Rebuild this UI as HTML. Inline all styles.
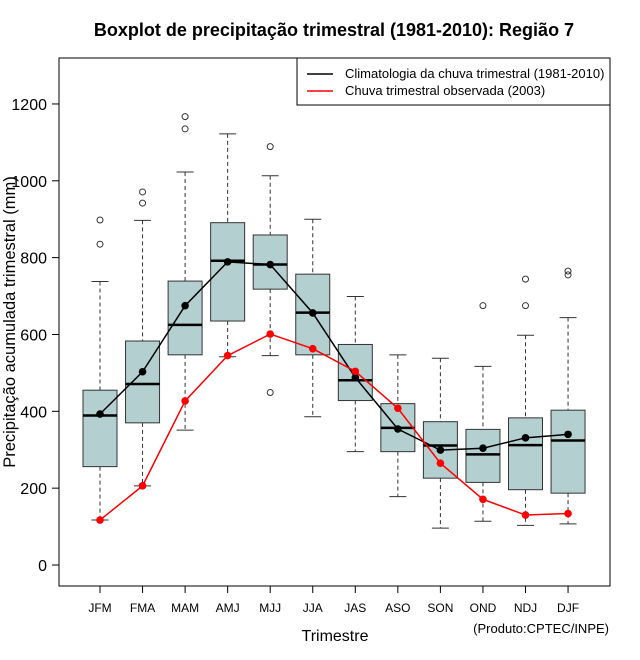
<!DOCTYPE html>
<html><head><meta charset="utf-8"><style>
body{margin:0;background:#fff;}
svg{display:block;font-family:"Liberation Sans",sans-serif;}
</style></head><body>
<svg id="chart" width="640" height="660">
<text x="334" y="36" text-anchor="middle" font-size="18" font-weight="bold">Boxplot de precipitação trimestral (1981-2010): Região 7</text>
<rect x="59" y="58" width="551" height="528" fill="none" stroke="#000" stroke-width="1"/>
<g id="yaxis"></g>
<g id="xaxis"></g>
<g id="boxes"></g>
<g id="lines"></g>
<text transform="translate(15,322) rotate(-90)" text-anchor="middle" font-size="16.5">Precipitação acumulada trimestral (mm)</text>
<text x="335" y="641" text-anchor="middle" font-size="16">Trimestre</text>
<text x="609" y="633" text-anchor="end" font-size="13">(Produto:CPTEC/INPE)</text>
<g>
<rect x="297" y="58" width="313" height="47" fill="#fff" stroke="#000"/>
<line x1="307" y1="74" x2="333" y2="74" stroke="#000" stroke-width="1.5"/>
<text x="345" y="78" font-size="13">Climatologia da chuva trimestral (1981-2010)</text>
<line x1="307" y1="91" x2="333" y2="91" stroke="#f00" stroke-width="1.5"/>
<text x="345" y="95" font-size="13">Chuva trimestral observada (2003)</text>
</g>
</svg>
<script>
const categories=["JFM","FMA","MAM","AMJ","MJJ","JJA","JAS","ASO","SON","OND","NDJ","DJF"];
const whiskerLow=[117,206,351,542,545,386,295,178,96,114,103,107];
const q1=[256,370,547,635,718,547,428,295,226,215,196,187];
const median=[389,471,625,792,782,657,481,357,311,288,312,324];
const q3=[455,583,739,891,859,757,574,420,373,353,383,403];
const whiskerHigh=[738,897,1023,1122,1013,900,699,547,538,517,598,644];
const outliers=[[898,835],[971,942],[1167,1135],[],[1089,449],[],[],[],[],[675],[744,675],[765,755]];
const climatology=[393,503,675,789,782,656,488,354,299,304,331,340];
const observed2003=[117,206,427,545,601,563,504,408,265,171,130,134];
const yTicks=[0,200,400,600,800,1000,1200];
const NS="http://www.w3.org/2000/svg";
const xS=i=>100+i*42.55;
const yS=v=>565-v*0.3842;
function mk(t,a,p){const e=document.createElementNS(NS,t);for(const k in a)e.setAttribute(k,a[k]);p.appendChild(e);return e;}
const ya=document.getElementById('yaxis');
yTicks.forEach(v=>{
 const l=mk('line',{x1:52,x2:59,y1:yS(v),y2:yS(v),stroke:'#000'},ya);
 
 
 const t=mk('text',{x:47,y:yS(v)+6,'text-anchor':'end','font-size':16},ya);
 t.textContent=v;
 
 
});
const xa=document.getElementById('xaxis');
categories.forEach((c,i)=>{
 const l=mk('line',{x1:xS(i),x2:xS(i),y1:586,y2:593,stroke:'#000'},xa);
 
 
 const t=mk('text',{x:xS(i),y:612,'text-anchor':'middle','font-size':12},xa);
 t.textContent=c;
 
 
});
const bx=document.getElementById('boxes');
categories.forEach((c,i)=>{
 const x=xS(i),g=mk('g',{},bx);
 
 
 mk('line',{x1:x,x2:x,y1:yS(whiskerHigh[i]),y2:yS(q3[i]),stroke:'#333','stroke-dasharray':'4,3'},g);
 mk('line',{x1:x,x2:x,y1:yS(q1[i]),y2:yS(whiskerLow[i]),stroke:'#333','stroke-dasharray':'4,3'},g);
 mk('line',{x1:x-8.5,x2:x+8.5,y1:yS(whiskerHigh[i]),y2:yS(whiskerHigh[i]),stroke:'#333'},g);
 mk('line',{x1:x-8.5,x2:x+8.5,y1:yS(whiskerLow[i]),y2:yS(whiskerLow[i]),stroke:'#333'},g);
 mk('rect',{x:x-17,y:yS(q3[i]),width:34,height:yS(q1[i])-yS(q3[i]),fill:'#b4cfcf',stroke:'#333'},g);
 mk('line',{x1:x-17,x2:x+17,y1:yS(median[i]),y2:yS(median[i]),stroke:'#000','stroke-width':2.5},g);
 outliers[i].forEach(v=>mk('circle',{cx:x,cy:yS(v),r:3,fill:'none',stroke:'#333'},g));
});
const ln=document.getElementById('lines');
function series(vals,col,name){
 const g=mk('g',{},ln);
 
 
 mk('polyline',{points:vals.map((v,i)=>xS(i)+','+yS(v)).join(' '),fill:'none',stroke:col,'stroke-width':1.5},g);
 vals.forEach((v,i)=>mk('circle',{cx:xS(i),cy:yS(v),r:3.8,fill:col},g));
}
series(climatology,'#000','climatology-line');
series(observed2003,'#f00','observed-2003-line');
</script>
</body></html>
